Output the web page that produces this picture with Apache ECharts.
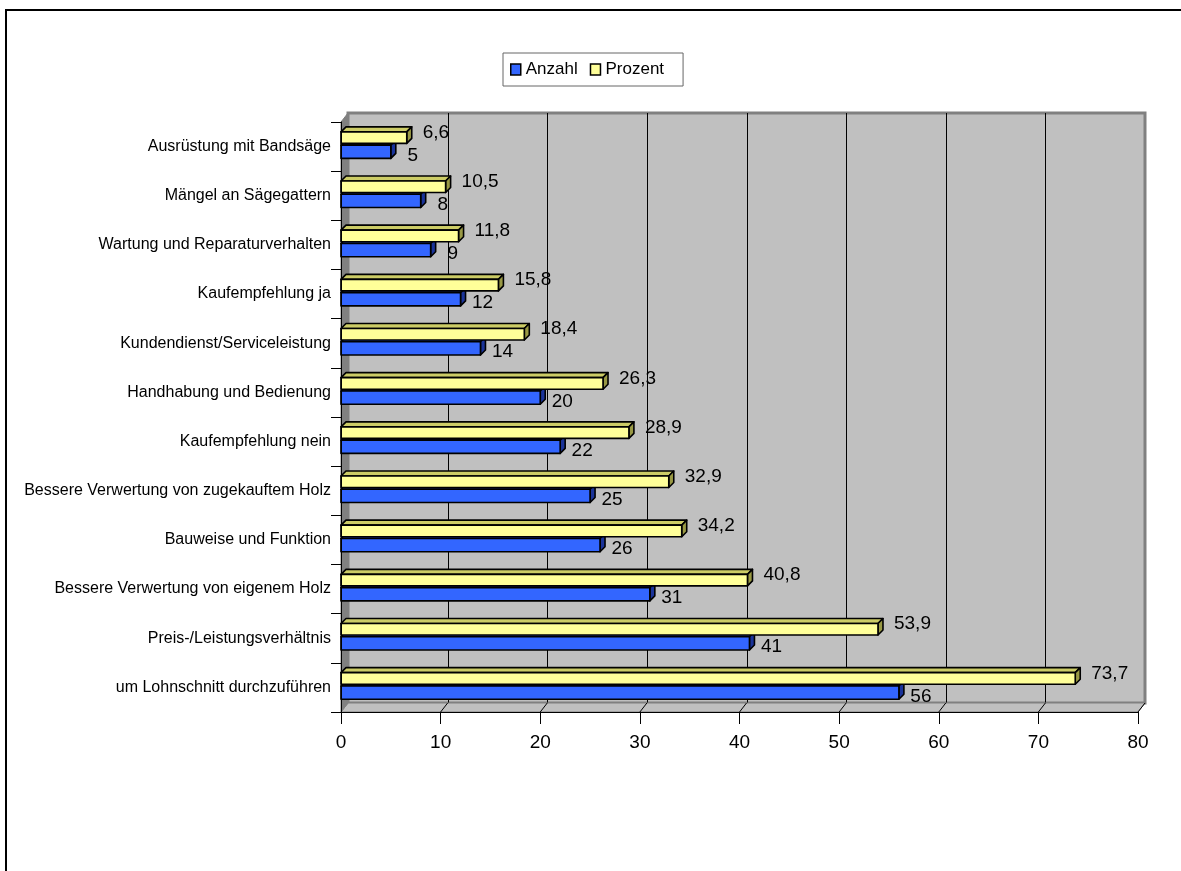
<!DOCTYPE html>
<html>
<head>
<meta charset="utf-8">
<title>Kaufgründe Sägewerk</title>
<script src="https://cdn.jsdelivr.net/npm/echarts@6/dist/echarts.min.js"></script>
<style>
	html, body { margin: 0; padding: 0; background: #fff; }
	#chart { width: 1181px; height: 871px; }
</style>
</head>
<body>
<div id="chart"></div>
<script>
// Kategorien von oben nach unten
var categories = [
	"Ausrüstung mit Bandsäge",
	"Mängel an Sägegattern",
	"Wartung und Reparaturverhalten",
	"Kaufempfehlung ja",
	"Kundendienst/Serviceleistung",
	"Handhabung und Bedienung",
	"Kaufempfehlung nein",
	"Bessere Verwertung von zugekauftem Holz",
	"Bauweise und Funktion",
	"Bessere Verwertung von eigenem Holz",
	"Preis-/Leistungsverhältnis",
	"um Lohnschnitt durchzuführen"
];
var anzahl = [5, 8, 9, 12, 14, 20, 22, 25, 26, 31, 41, 56];
var prozent = [6.6, 10.5, 11.8, 15.8, 18.4, 26.3, 28.9, 32.9, 34.2, 40.8, 53.9, 73.7];
var xTicks = [0, 10, 20, 30, 40, 50, 60, 70, 80];

var FONT = "'Liberation Sans', Arial, sans-serif";
var DX = 7, DY = -9; // Tiefe der Wand (3D)
var BD = 5;          // Tiefe der Balken

function fmt(v) {
	return String(v).replace(".", ",");
}

// Rückwand, Boden, linke Wand
function renderWalls(params, api) {
	var cs = params.coordSys;
	var x0 = cs.x, y0 = cs.y, x1 = cs.x + cs.width, y1 = cs.y + cs.height;
	var kids = [];
	kids.push({
		type: "rect",
		shape: { x: x0 + DX, y: y0 + DY, width: cs.width, height: cs.height },
		style: { fill: "#c0c0c0", stroke: "#808080", lineWidth: 3 }
	});
	for(var i = 1; i < xTicks.length - 1; i++) {
		var gx = Math.round(api.coord([xTicks[i], 0])[0] + DX) + 0.5;
		kids.push({
			type: "line",
			shape: { x1: gx, y1: y0 + DY, x2: gx, y2: y1 + DY },
			style: { stroke: "#000", lineWidth: 1 }
		});
	}
	kids.push({
		type: "polygon",
		shape: { points: [[x0, y1], [x0 + DX, y1 + DY], [x1 + DX, y1 + DY], [x1, y1]] },
		style: { fill: "#c0c0c0", stroke: "#808080", lineWidth: 1 }
	});
	for(var j = 1; j < xTicks.length; j++) {
		var fx = api.coord([xTicks[j], 0])[0];
		kids.push({
			type: "line",
			shape: { x1: fx, y1: y1, x2: fx + DX, y2: y1 + DY },
			style: { stroke: "#000", lineWidth: 1 }
		});
	}
	kids.push({
		type: "polygon",
		shape: { points: [[x0, y0], [x0 + DX, y0 + DY], [x0 + DX, y1 + DY], [x0, y1]] },
		style: { fill: "#808080", stroke: "#808080", lineWidth: 1 }
	});
	return { type: "group", children: kids };
}

// 3D-Balken mit Beschriftung
function barRenderer(cfg) {
	return function(params, api) {
		var idx = api.value(1);
		var v = api.value(0);
		var s = api.coord([0, idx]);
		var e = api.coord([v, idx]);
		var band = api.size([0, 1])[1];
		var top = s[1] + cfg.top * band;
		var h = cfg.h * band;
		var x0 = s[0], xv = e[0];
		var line = { stroke: "#000", lineWidth: 1.6, lineJoin: "round" };
		var lab;
		if(cfg.labelAlign == "left") {
			lab = { x: xv + cfg.lx, y: s[1] + cfg.ly };
		} else {
			lab = { x: xv + cfg.lx, y: s[1] + cfg.ly };
		}
		return {
			type: "group",
			children: [{
				type: "polygon",
				shape: { points: [[x0, top], [x0 + BD, top - BD], [xv + BD, top - BD], [xv, top]] },
				style: Object.assign({ fill: cfg.topColor }, line)
			}, {
				type: "polygon",
				shape: { points: [[xv, top], [xv + BD, top - BD], [xv + BD, top + h - BD], [xv, top + h]] },
				style: Object.assign({ fill: cfg.sideColor }, line)
			}, {
				type: "rect",
				shape: { x: x0, y: top, width: xv - x0, height: h },
				style: Object.assign({ fill: cfg.color }, line)
			}, {
				type: "text",
				style: {
					text: fmt(v),
					x: lab.x,
					y: lab.y,
					fill: "#000",
					font: "19px " + FONT,
					align: cfg.labelAlign,
					verticalAlign: "middle"
				}
			}]
		};
	};
}

var chart = echarts.init(document.getElementById("chart"));

var option = {
	animation: false,
	backgroundColor: "#fff",
	textStyle: { fontFamily: FONT },
	graphic: [{
		type: "rect",
		shape: { x: 6, y: 10, width: 1400, height: 1000 },
		style: { fill: "none", stroke: "#000", lineWidth: 2 },
		silent: true
	}],
	legend: {
		left: 503,
		top: 53,
		data: ["Anzahl", "Prozent"],
		icon: "rect",
		itemWidth: 10,
		itemHeight: 11,
		itemGap: 12,
		padding: [8, 19, 8, 7],
		borderColor: "#666",
		borderWidth: 1,
		itemStyle: { borderColor: "#000", borderWidth: 1.5 },
		textStyle: { fontSize: 17, color: "#000", fontFamily: FONT }
	},
	grid: {
		left: 341,
		right: 43,
		top: 122,
		bottom: 159,
		containLabel: false
	},
	xAxis: {
		type: "value",
		min: xTicks[0],
		max: xTicks[xTicks.length - 1],
		interval: xTicks[1] - xTicks[0],
		z: 10,
		axisLine: { show: true, lineStyle: { color: "#000", width: 1 } },
		axisTick: { show: true, length: 12, lineStyle: { color: "#000" } },
		splitLine: { show: false },
		axisLabel: { margin: 21, fontSize: 19, color: "#000", fontFamily: FONT }
	},
	yAxis: {
		type: "category",
		data: categories,
		inverse: true,
		z: 10,
		axisLine: { show: true, lineStyle: { color: "#000", width: 1 } },
		axisTick: { show: true, length: 10, lineStyle: { color: "#000" } },
		axisLabel: { margin: 10, fontSize: 16, color: "#000", fontFamily: FONT }
	},
	series: [{
		name: "walls",
		type: "custom",
		silent: true,
		z: 1,
		renderItem: renderWalls,
		data: [[0, 0]]
	}, {
		name: "Anzahl",
		type: "custom",
		z: 3,
		itemStyle: { color: "#3366ff" },
		encode: { x: 0, y: 1 },
		renderItem: barRenderer({
			top: -0.03, h: 0.27,
			color: "#3366ff", topColor: "#2244bb", sideColor: "#1a3399",
			lx: 22, ly: 9, labelAlign: "center"
		}),
		data: anzahl.map(function(v, i) { return [v, i]; })
	}, {
		name: "Prozent",
		type: "custom",
		z: 3,
		itemStyle: { color: "#ffff99" },
		encode: { x: 0, y: 1 },
		renderItem: barRenderer({
			top: -0.30, h: 0.235,
			color: "#ffff99", topColor: "#cccc66", sideColor: "#999944",
			lx: 16, ly: -14, labelAlign: "left"
		}),
		data: prozent.map(function(v, i) { return [v, i]; })
	}]
};

chart.setOption(option);
</script>
</body>
</html>
